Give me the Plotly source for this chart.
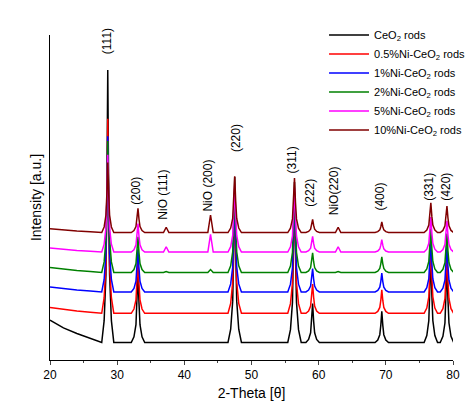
import plotly.graph_objects as go

names = ["CeO<sub>2</sub> rods", "0.5%Ni-CeO<sub>2</sub> rods", "1%Ni-CeO<sub>2</sub> rods",
         "2%Ni-CeO<sub>2</sub> rods", "5%Ni-CeO<sub>2</sub> rods", "10%Ni-CeO<sub>2</sub> rods"]
colors = ["#000000", "#ff0000", "#0000ff", "#008000", "#ff00ff", "#800000"]
baselines = [27, 57, 79, 99, 120, 140]
low_angle_rise = [23, 6, 5, 5, 4, 4]
h111 = [280, 200, 160, 135, 100, 72]
scale = [1.0, 0.75, 0.6, 0.5, 0.4, 0.34]
nio_h = [0, 0, 0, 3, 18, 18]

low_x = [20.0, 22.0, 24.0, 26.0, 27.5]
low_f = [1.0, 0.65, 0.4, 0.18, 0.05]
peak_pos = [33.1, 47.5, 56.4, 59.1, 69.4, 76.7, 79.1]
peak_h = [73, 170, 165, 40, 32, 90, 80]
nio_pos = [37.3, 43.9, 62.9]
nio_rel = [0.3, 1.0, 0.3]
shape_dx = [-1.0, -0.6, -0.3, -0.15, 0.0, 0.15, 0.3, 0.6, 1.0]
shape_f = [0.0, 0.08, 0.25, 0.55, 1.0, 0.55, 0.25, 0.08, 0.0]
labels = ["(111)", "(200)", "NiO (111)", "NiO (200)", "(220)", "(311)", "(222)", "NiO(220)", "(400)", "(331)", "(420)"]
label_x = [28.6, 32.9, 36.8, 43.6, 47.6, 56.0, 58.8, 62.4, 69.2, 76.5, 79.0]
label_y = [322, 167, 152, 160, 222, 200, 165, 157, 162, 172, 172]

fig = go.Figure()
for i in range(6):
    pts = [(x, low_angle_rise[i] * f + 1) for x, f in zip(low_x, low_f)]
    for dx, f in zip(shape_dx, shape_f):
        pts.append((28.6 + dx * 0.9, h111[i] * f + 1))
    for p, h in zip(peak_pos, peak_h):
        for dx, f in zip(shape_dx, shape_f):
            pts.append((p + dx, h * scale[i] * f + 1))
    for p, r in zip(nio_pos, nio_rel):
        pts += [(p - 0.4, 1), (p, nio_h[i] * r + 1), (p + 0.4, 1)]
    pts += [(80.0, 1)]
    pts.sort()
    xs = [p[0] for p in pts]
    ys = [p[1] + baselines[i] for p in pts]
    fig.add_trace(go.Scatter(x=xs, y=ys, mode="lines", name=names[i],
                             line=dict(color=colors[i], width=1.5)))

for t, x, y in zip(labels, label_x, label_y):
    fig.add_annotation(x=x, y=y, text=t, textangle=-90, showarrow=False,
                       xanchor="center", yanchor="bottom", font=dict(size=12, color="black"))

fig.update_layout(
    width=474, height=409, paper_bgcolor="white", plot_bgcolor="white",
    margin=dict(l=42, r=17, t=18, b=57),
    font=dict(family="Arial, Liberation Sans", size=12, color="black"),
    legend=dict(x=0.68, y=1.045, xanchor="left", yanchor="top", bgcolor="rgba(0,0,0,0)",
                font=dict(size=11), tracegroupgap=0, itemwidth=40),
    xaxis=dict(range=[20, 80], dtick=10, showline=True, linecolor="black", linewidth=1,
               ticks="outside", ticklen=4, showgrid=False, zeroline=False,
               minor=dict(dtick=5, ticks="outside", ticklen=2),
               title=dict(text="2-Theta [θ]", standoff=6)),
    yaxis=dict(range=[10, 344], showline=True, linecolor="black", linewidth=1,
               showticklabels=False, ticks="", showgrid=False, zeroline=False,
               title=dict(text="Intensity [a.u.]", standoff=4)),
)
fig.write_html("out.html")
